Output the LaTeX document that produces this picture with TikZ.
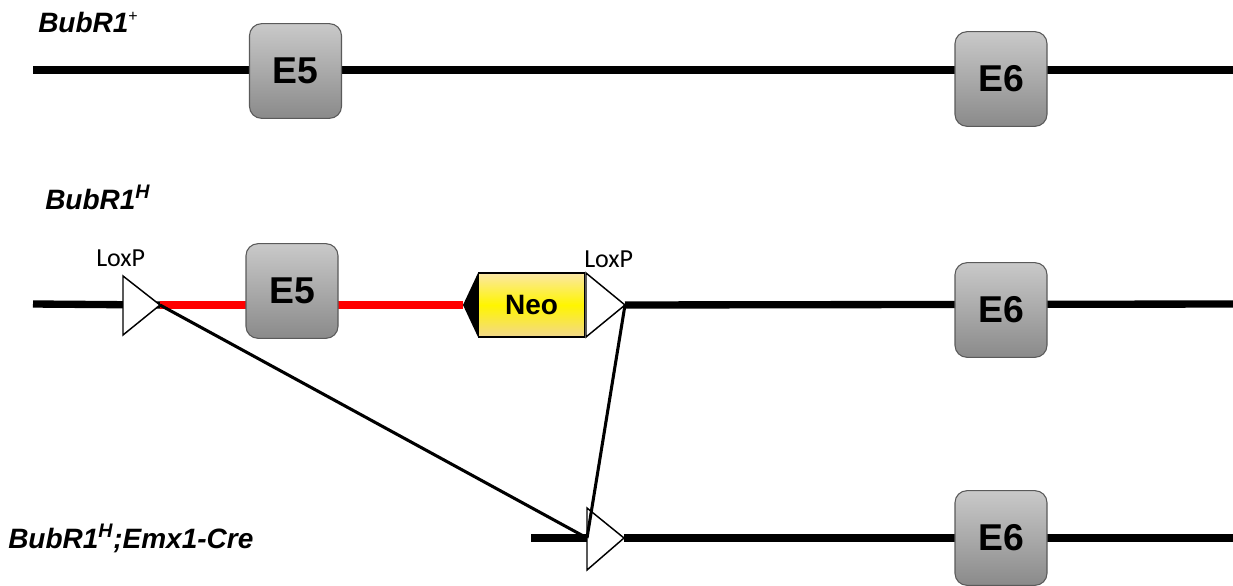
\documentclass[tikz,border=0pt]{standalone}
\usepackage{fontspec}
\setmainfont{Liberation Sans}
\newfontfamily\loxfont{Carlito}
\definecolor{exontop}{HTML}{C9C9C9}
\definecolor{exonbot}{HTML}{8A8A8A}
\definecolor{exonedge}{HTML}{5A5A5A}
\definecolor{neotop}{HTML}{FBE7A6}
\definecolor{neomid}{HTML}{FFF500}
\definecolor{neobot}{HTML}{F2D88C}
\definecolor{cassette}{HTML}{FF0000}
\begin{document}
\begin{tikzpicture}[x=0.75pt,y=-0.75pt,
  dna/.style={line width=5.5pt,black},
  dnared/.style={line width=5.5pt,cassette},
  exon/.style={draw=exonedge,line width=0.8pt,rounded corners=9pt,
    top color=exontop,bottom color=exonbot,minimum width=69pt,
    minimum height=71pt,inner sep=0pt,
    font=\fontsize{28pt}{30pt}\selectfont\bfseries},
  allele/.style={anchor=base west,inner sep=0pt,
    font=\fontsize{21pt}{24pt}\selectfont\bfseries\itshape},
  loxlabel/.style={anchor=base west,inner sep=0pt,
    font=\fontsize{19.5pt}{22pt}\selectfont\loxfont},
  loxsite/.style={draw=black,line width=1.1pt,fill=white,line join=miter},
  recomb/.style={line width=2.3pt,black},
  neobox/.style={draw=black,line width=0.9pt,top color=neotop,bottom color=neobot,
    middle color=neomid,minimum width=80pt,minimum height=48pt,inner sep=0pt}
]
\useasboundingbox (0,0) rectangle (1233,586);

% ---------- wild-type allele ----------
\node[allele] (lblwt) at (38,32) {BubR1\textsuperscript{\normalfont\fontsize{12pt}{14pt}\selectfont +}};
\coordinate (wtL) at (33,70);
\coordinate (wtR) at (1233,70);
\draw[dna] (wtL) -- (wtR);
\node[exon] (wtE5) at (295.5,71) {E5};
\node[exon] (wtE6) at (1001,79) {E6};

% ---------- hypomorphic allele ----------
\node[allele] (lblh) at (45,209) {BubR1\textsuperscript{H}};
\coordinate (hL) at (33,304);
\coordinate (hR) at (1233,304);
\coordinate (lox1tip) at (160,305);
\coordinate (neotip) at (463,305);
\coordinate (lox2tip) at (625,305);
\draw[dna] (hL) -- (lox1tip);
\draw[dnared] (lox1tip) -- (neotip);
\draw[dna] (lox2tip) -- (hR);
\node[exon] (hE5) at (292,291) {E5};
\node[exon] (hE6) at (1001,310) {E6};

% Neo cassette with its orientation arrowhead
\node[neobox] (neo) at (531.5,305) {};
\node[anchor=base,inner sep=0pt,font=\fontsize{21pt}{24pt}\selectfont\bfseries] (neotxt) at (531.5,314) {Neo};
\fill[black] (neotip) -- (478,273) -- (478,337) -- cycle;

% LoxP sites
\draw[loxsite] (123,276) -- (lox1tip) -- (123,335) -- cycle;
\draw[loxsite] (586,273) -- (lox2tip) -- (586,337) -- cycle;
\node[loxlabel] (lox1lbl) at (96,266) {LoxP};
\node[loxlabel] (lox2lbl) at (584,267) {LoxP};

% ---------- recombined allele ----------
\node[allele] (lblcre) at (8,548) {BubR1\textsuperscript{H};Emx1-Cre};
\coordinate (cL) at (531,538);
\coordinate (cR) at (1233,538);
\coordinate (lox3base) at (587,538);
\coordinate (lox3tip) at (624,538);
\draw[dna] (cL) -- (lox3base);
\draw[dna] (lox3tip) -- (cR);
\draw[loxsite] (587,508) -- (lox3tip) -- (587,570) -- cycle;
\node[exon] (cE6) at (1001,538) {E6};

% Cre-mediated excision between the two LoxP sites
\draw[recomb] (lox1tip) -- (lox3base);
\draw[recomb] (lox2tip) -- (lox3base);
\end{tikzpicture}
\end{document}
